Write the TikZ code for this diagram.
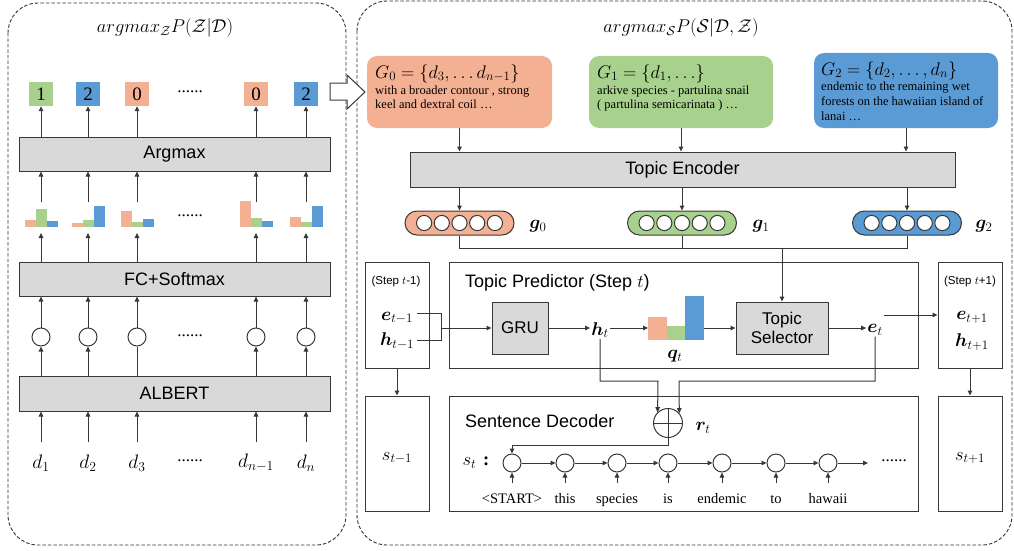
\documentclass[tikz,border=0pt]{standalone}
\usepackage{fix-cm}
\usepackage{amsmath,bm}
\usepackage[no-math]{fontspec}
\setmainfont{Liberation Serif}
\setsansfont{Liberation Sans}
\usetikzlibrary{arrows.meta}
\definecolor{salm}{HTML}{F4B093}
\definecolor{grn}{HTML}{A9D18E}
\definecolor{blu}{HTML}{5B9BD5}
\definecolor{gry}{HTML}{D9D9D9}
\definecolor{lc}{HTML}{383838}
\tikzset{
  wire/.style={draw=lc, line width=1pt},
  arr/.style={wire, -{Triangle[length=5pt,width=4.5pt]}},
  outer/.style={draw=black!80, line width=0.9pt, dash pattern=on 3.5pt off 2pt, rounded corners=30pt},
  lay/.style={draw=lc, fill=gry, line width=1pt, inner sep=0pt, font=\sffamily\fontsize{18}{20}\selectfont},
  plainbox/.style={draw=lc, line width=1pt, inner sep=0pt},
  sq/.style={inner sep=0pt, minimum size=24pt, font=\fontsize{19}{19}\selectfont},
  mathlbl/.style={inner sep=1pt, font=\fontsize{18.5}{20}\selectfont},
  steplbl/.style={inner sep=0pt, font=\sffamily\fontsize{11.5}{13}\selectfont},
  dotlbl/.style={inner sep=0pt, font=\fontsize{17}{17}\selectfont},
  gtext/.style={inner sep=0pt, anchor=base west, font=\fontsize{12.5}{14}\selectfont},
  gform/.style={inner sep=0pt, anchor=base west, font=\fontsize{18.3}{21}\selectfont},
  gbox/.style={inner sep=0pt, rounded corners=10pt},
  oval/.style={draw=lc, line width=1pt, inner sep=0pt, minimum width=109pt, minimum height=24pt, rounded corners=12pt},
  smallc/.style={circle, draw=lc, line width=1pt, inner sep=0pt},
  word/.style={inner sep=0pt, anchor=base, font=\fontsize{14.5}{16}\selectfont},
  ttl/.style={inner sep=0pt, anchor=west, font=\sffamily\fontsize{18}{20}\selectfont}
}
\begin{document}
\begin{tikzpicture}[x=1pt,y=-1pt]
\useasboundingbox (0,0) rectangle (1014,551);
% outer dashed panels
\draw[outer] (8,3) rectangle (346,545);
\draw[outer] (357,1) rectangle (1012,545);
% titles
\node[font=\fontsize{18.5}{20}\selectfont] (tl) at (165,28) {$argmax_{\mathcal{Z}}P(\mathcal{Z}|\mathcal{D})$};
\node[font=\fontsize{18.5}{20}\selectfont] (tr) at (681,28) {$argmax_{\mathcal{S}}P(\mathcal{S}|\mathcal{D},\mathcal{Z})$};

% ---------- left panel ----------
\node[lay, minimum width=311pt, minimum height=34pt] (argmax) at (174.5,154) {Argmax};
\node[lay, minimum width=311pt, minimum height=34pt] (fc) at (174.5,279) {FC+Softmax};
\node[lay, minimum width=311pt, minimum height=35pt] (albert) at (174.5,393.5) {ALBERT};

\foreach \i/\x/\c/\n/\a/\b/\e/\d in {1/41/grn/1/7/18/6/$d_1$, 2/88/blu/2/4/7/21/$d_2$, 3/137/salm/0/16/5/8/$d_3$, 4/256/salm/0/26/9/6/$d_{n-1}$, 5/306/blu/2/10/5/21/$d_n$}{
  \node[sq, fill=\c] (sq\i) at (\x,94) {\n};
  \draw[arr] (argmax.north -| sq\i) -- (sq\i.south);
  \fill[salm] (\x-16.5,227) rectangle (\x-5.5,227-\a);
  \fill[grn] (\x-5.5,227) rectangle (\x+5.5,227-\b);
  \fill[blu] (\x+5.5,227) rectangle (\x+16.5,227-\e);
  \coordinate (hT\i) at (\x,202);
  \coordinate (hB\i) at (\x,233);
  \draw[arr] (hT\i) -- (argmax.south -| hT\i);
  \draw[arr] (fc.north -| hB\i) -- (hB\i);
  \node[smallc, minimum size=18pt] (c\i) at (\x,337) {};
  \draw[arr] (c\i.north) -- (fc.south -| c\i);
  \coordinate (dT\i) at (\x,442);
  \draw[arr] (dT\i) -- (albert.south -| dT\i);
  \node[mathlbl, font=\fontsize{19.5}{21}\selectfont] (d\i) at (\x,463) {\d};
}
\foreach \i in {1,2,4,5}{ \draw[arr] (albert.north -| c\i) -- (c\i.south); }
\draw[wire] (albert.north -| c3) -- (c3.south);
\node[dotlbl] (dots1) at (190,92) {......};
\node[dotlbl] (dots2) at (190,216) {......};
\node[dotlbl] (dots3) at (190,336) {......};
\node[dotlbl] (dots4) at (190,461) {......};

% hollow arrow between panels
\draw[draw=lc, line width=1pt, fill=white] (330,83) -- (347,83) -- (347,75) -- (365,92) -- (347,109) -- (347,100) -- (330,100) -- cycle;

% ---------- right panel ----------
\node[gbox, fill=salm, minimum width=185pt, minimum height=72pt] (G0) at (459.5,92) {};
\node[gbox, fill=grn, minimum width=184pt, minimum height=72pt] (G1) at (681,92) {};
\node[gbox, fill=blu, minimum width=184pt, minimum height=75pt] (G2) at (906,90.5) {};
\node[gform] (G0f) at (375,78) {$G_0=\{d_3,\ldots d_{n-1}\}$};
\node[gtext] (G0a) at (375,94) {with a broader contour , strong};
\node[gtext] (G0b) at (375,108) {keel and dextral coil \ldots};
\node[gform] (G1f) at (597,78) {$G_1=\{d_1,\ldots\}$};
\node[gtext] (G1a) at (597,94) {arkive species - partulina snail};
\node[gtext] (G1b) at (597,108) {( partulina semicarinata ) \ldots};
\node[gform] (G2f) at (821,75) {$G_2=\{d_2,\ldots,d_n\}$};
\node[gtext] (G2a) at (821,90) {endemic to the remaining wet};
\node[gtext] (G2b) at (821,105) {forests on the hawaiian island of};
\node[gtext] (G2c) at (821,120.5) {lanai \ldots};

\node[lay, minimum width=545pt, minimum height=35pt] (enc) at (682.5,169.5) {Topic Encoder};
\foreach \k in {0,1,2}{ \draw[arr] (G\k.south) -- (enc.north -| G\k.south); }

\foreach \k/\x/\c in {0/459.5/salm, 1/682/grn, 2/907/blu}{
  \node[oval, fill=\c] (g\k) at (\x,223) {};
  \foreach \m in {-2,...,2}{ \draw[draw=lc, line width=1pt, fill=white] (\x+\m*17.7,223) circle (7.6); }
  \draw[arr] (enc.south -| g\k) -- (g\k.north);
}
\node[mathlbl] (lg0) at (538,226) {$\bm{g}_0$};
\node[mathlbl] (lg1) at (761,226) {$\bm{g}_1$};
\node[mathlbl] (lg2) at (984,226) {$\bm{g}_2$};

% topic predictor
\node[plainbox, minimum width=469pt, minimum height=106pt] (tp) at (683.5,315) {};
\node[ttl] (tpt) at (465,283) {Topic Predictor (Step $t$)};
\node[lay, minimum width=56pt, minimum height=52pt, font=\sffamily\fontsize{17}{19}\selectfont] (gru) at (520,328) {GRU};
\node[lay, minimum width=92pt, minimum height=52pt, align=center, font=\sffamily\fontsize{17}{19}\selectfont] (sel) at (782,328) {Topic\\Selector};
\node[mathlbl] (ht) at (600,330) {$\bm{h}_t$};
\node[mathlbl] (et) at (875,330) {$\bm{e}_t$};
\fill[salm] (648,317) rectangle (667,340);
\fill[grn] (667,326) rectangle (685,340);
\fill[blu] (685,296) rectangle (704,340);
\coordinate (qL) at (648,328);
\coordinate (qR) at (704,328);
\node[mathlbl] (qt) at (675,356) {$\bm{q}_t$};

% selector input from topic vectors
\coordinate (j) at (782,248);
\draw[wire] (g0.south) -- (g0.south |- j) -- (g2.south |- j) -- (g2.south);
\draw[wire] (g1.south) -- (g1.south |- j);
\draw[arr] (j) -- (sel.north);

\draw[arr] (gru.east) -- (ht.west |- gru.east);
\draw[arr] (ht.east |- qL) -- (qL);
\draw[arr] (qR) -- (sel.west);
\draw[arr] (sel.east) -- (et.west |- sel.east);

% step t-1
\node[plainbox, minimum width=64pt, minimum height=106pt] (sm) at (397,315) {};
\node[steplbl] (sml) at (396,282) {(Step $t$-1)};
\node[mathlbl] (em) at (397,318) {$\bm{e}_{t-1}$};
\node[mathlbl] (hm) at (397,341) {$\bm{h}_{t-1}$};
\coordinate (emR) at (417,313);
\coordinate (hmR) at (417,340);
\coordinate (br) at (441,328);
\draw[wire] (emR) -- (emR -| br) -- (hmR -| br) -- (hmR);
\draw[arr] (br) -- (gru.west);

% step t+1
\node[plainbox, minimum width=64pt, minimum height=106pt] (sp) at (970,315) {};
\node[steplbl] (spl) at (970,282) {(Step $t$+1)};
\node[mathlbl] (ep) at (972,317) {$\bm{e}_{t+1}$};
\node[mathlbl] (hp) at (972,342) {$\bm{h}_{t+1}$};
\draw[arr] (et.east |- sp.west) -- (sp.west);

% sentence boxes
\node[plainbox, minimum width=64pt, minimum height=115pt] (smb) at (397,453.5) {};
\node[mathlbl] (sml2) at (397,458) {$s_{t-1}$};
\node[plainbox, minimum width=64pt, minimum height=115pt] (spb) at (970,453.5) {};
\node[mathlbl] (spl2) at (970,458) {$s_{t+1}$};
\draw[arr] (sm.south) -- (smb.north);
\draw[arr] (sp.south) -- (spb.north);

% sentence decoder
\node[plainbox, minimum width=469pt, minimum height=115pt] (sd) at (683.5,453.5) {};
\node[ttl] (sdt) at (465,421) {Sentence Decoder};
\node[smallc, minimum size=29pt] (plus) at (668,423) {};
\draw[wire] (plus.north) -- (plus.south);
\draw[wire] (plus.west) -- (plus.east);
\node[mathlbl] (rt) at (703,428) {$\bm{r}_t$};
\coordinate (hy) at (658,381);
\coordinate (ey) at (679,381);
\draw[arr] (ht.south) |- (hy) -- (plus.134);
\draw[arr] (et.south) |- (ey) -- (plus.41);

\node[mathlbl] (st) at (476,463) {$s_t$\hspace{7pt}\textbf{:}};
\foreach \i/\x/\w in {1/512/{<START>}, 2/565/this, 3/617/species, 4/668/is, 5/722/endemic, 6/776/to, 7/828/hawaii}{
  \node[smallc, minimum size=18pt] (w\i) at (\x,463) {};
  \coordinate (wa\i) at (\x,483);
  \draw[arr] (wa\i) -- (w\i.south);
  \node[word] (wl\i) at (\x,503.5) {\w};
}
\coordinate (pd) at (668,445);
\draw[arr] (plus.south) -- (pd) -| (w1.north);
\foreach \i/\j in {1/2,2/3,3/4,4/5,5/6,6/7}{ \draw[arr] (w\i.east) -- (w\j.west); }
\coordinate (wend) at (868,463);
\draw[arr] (w7.east) -- (wend);
\node[dotlbl] (dots5) at (894,461) {......};
\end{tikzpicture}
\end{document}
